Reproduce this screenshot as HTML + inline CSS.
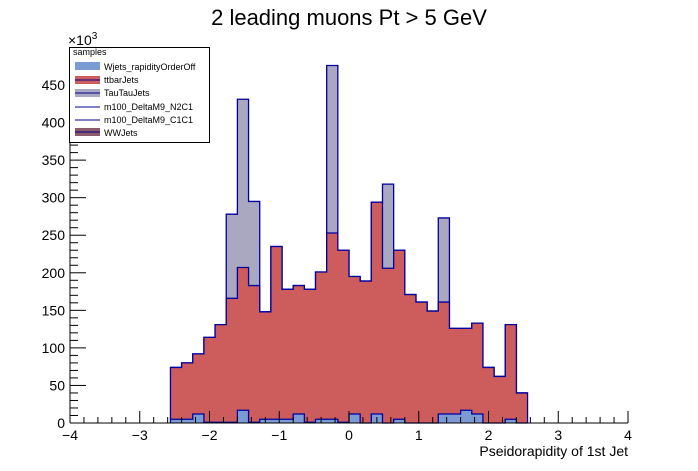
<!DOCTYPE html>
<html><head><meta charset="utf-8"><style>
body{margin:0;background:#fff}
svg{display:block;font-family:"Liberation Sans",sans-serif}
</style></head><body>
<svg id="c" width="698" height="471">
<rect x="0" y="0" width="698" height="471" fill="#fff"/>
<text x="349" y="25" font-size="22" text-anchor="middle">2 leading muons Pt &gt; 5 GeV</text>
<g id="bars" shape-rendering="crispEdges"></g>
<g id="axes"></g>
<text x="628" y="456" font-size="14" text-anchor="end">Pseidorapidity of 1st Jet</text>
<text x="68" y="45" font-size="14">×10<tspan font-size="10" dy="-6">3</tspan></text>
<g>
<rect x="69.5" y="47.5" width="140" height="95" fill="#fff" stroke="#000"/>
<text x="73" y="55" font-size="9">samples</text>
<g><rect x="75" y="62" width="25" height="8" fill="#7b9bd4"/><text x="104" y="70" font-size="9">Wjets_rapidityOrderOff</text></g>
<g><rect x="75" y="76" width="25" height="8" fill="#cd5c5c"/><line x1="75" y1="80" x2="100" y2="80" stroke="#00008b"/><text x="104" y="83" font-size="9">ttbarJets</text></g>
<g><rect x="75" y="89" width="25" height="8" fill="#aaa8c0"/><line x1="75" y1="93" x2="100" y2="93" stroke="#00008b"/><text x="104" y="96" font-size="9">TauTauJets</text></g>
<g><line x1="75" y1="107" x2="100" y2="107" stroke="#00008b"/><text x="104" y="110" font-size="9">m100_DeltaM9_N2C1</text></g>
<g><line x1="75" y1="120" x2="100" y2="120" stroke="#00008b"/><text x="104" y="123" font-size="9">m100_DeltaM9_C1C1</text></g>
<g><rect x="75" y="128" width="25" height="8" fill="#8c5a6a"/><line x1="75" y1="132" x2="100" y2="132" stroke="#00008b"/><text x="104" y="136" font-size="9">WWJets</text></g>
</g>
</svg>
<script>
const binLow=-2.56, binWidth=0.16;
const wjets=[5,5,12,1,1,1,17,1,5,5,5,12,1,5,5,1,12,0,12,0,5,0,0,0,12,12,17,12,0,0,5,0];
const redTop=[74,80,92,114,131,166,207,183,148,235,178,183,178,201,253,230,195,189,294,206,230,171,161,149,161,126,126,133,74,62,131,40];
const tauTop=[74,80,92,114,131,278,431,295,148,235,178,183,178,201,476,230,195,189,294,318,230,171,161,149,273,126,126,133,74,62,131,40];
const ttbar=redTop.map((v,i)=>v-wjets[i]);
const tautau=tauTop.map((v,i)=>v-redTop[i]);
const xTicks=[-4,-3,-2,-1,0,1,2,3,4];
const yTicks=[0,50,100,150,200,250,300,350,400,450];
const X0=70,X1=628,Y0=423,YT=47;
const xs=v=>X0+(v+4)/8*(X1-X0);
const ys=v=>Y0-v*0.7511;
const NS="http://www.w3.org/2000/svg";
const bars=document.getElementById('bars'), axes=document.getElementById('axes');
function mk(tag,attrs,parent){const e=document.createElementNS(NS,tag);for(const k in attrs)e.setAttribute(k,attrs[k]);parent.appendChild(e);return e;}
function layer(vals,base,fill,name){
  let d='';
  vals.forEach((v,i)=>{
    const b=base[i], t=b+v;
    const x0=xs(binLow+i*binWidth), x1=xs(binLow+(i+1)*binWidth);
    const r=mk('rect',{x:x0,y:ys(t),width:x1-x0+0.5,height:ys(b)-ys(t),fill:fill},bars);
    
    
    d+=(i==0?'M'+x0+','+ys(b)+' L':'L')+x0+','+ys(t)+' L'+x1+','+ys(t)+' ';
  });
  const n=vals.length;
  d+='L'+xs(binLow+n*binWidth)+','+ys(base[n-1]);
  const p=mk('path',{d:d,fill:'none',stroke:'#0000a0','stroke-width':1.3,'shape-rendering':'auto'},bars);
  
  
}
const zero=wjets.map(()=>0);
const b2=wjets.slice();
const b3=wjets.map((v,i)=>v+ttbar[i]);
layer(tautau,b3,'#aaa8c0','tautau');
layer(ttbar,b2,'#cd5c5c','ttbar');
layer(wjets,zero,'#7b9bd4','wjets');
mk('line',{x1:X0,y1:Y0,x2:X1,y2:Y0,stroke:'#000'},axes);
mk('line',{x1:X0,y1:Y0,x2:X0,y2:YT,stroke:'#000'},axes);
for(let v=-4;v<=4.001;v+=0.2){
  const major=Math.abs(v-Math.round(v))<1e-6;
  const half=!major&&Math.abs(v*2-Math.round(v*2))<1e-6;
  const len=major?12:(half?9:6);
  mk('line',{x1:xs(v),y1:Y0,x2:xs(v),y2:Y0-len,stroke:'#000'},axes);
}
xTicks.forEach(v=>{
  const t=mk('text',{x:xs(v),y:Y0+17,'font-size':14,'text-anchor':'middle'},axes);
  t.textContent=(v<0?'\u2212':'')+Math.abs(v);
  
  
});
for(let v=0;v<=490;v+=10){
  const len=v%50==0?16:8;
  mk('line',{x1:X0,y1:ys(v),x2:X0+len,y2:ys(v),stroke:'#000'},axes);
}
yTicks.forEach(v=>{
  const t=mk('text',{x:X0-5,y:ys(v)+5,'font-size':14,'text-anchor':'end'},axes);
  t.textContent=v;
  
  
});
</script>
</body></html>
